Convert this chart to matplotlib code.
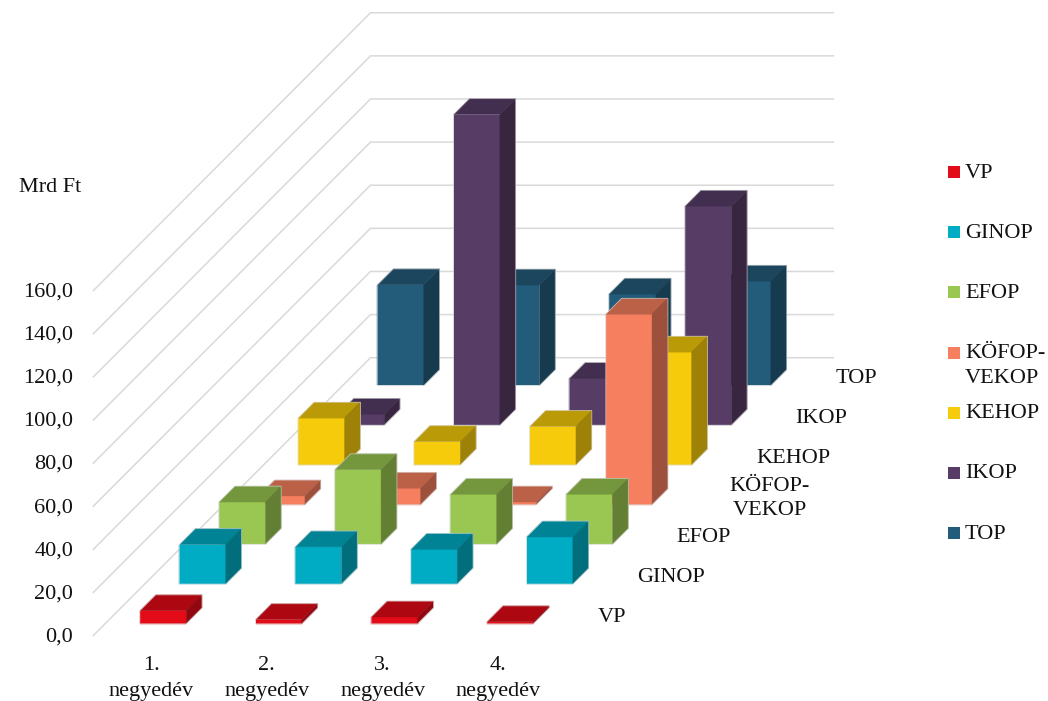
import matplotlib
matplotlib.use("Agg")
import matplotlib.pyplot as plt
from matplotlib.colors import to_rgb
from matplotlib.patches import Polygon, Rectangle

# Quarterly figures, Mrd Ft
quarters = ["1.\nnegyedév", "2.\nnegyedév", "3.\nnegyedév", "4.\nnegyedév"]
programmes = ["VP", "GINOP", "EFOP", "KÖFOP-\nVEKOP", "KEHOP", "IKOP", "TOP"]
vp = [6.0, 1.9, 3.1, 0.9]
ginop = [18.3, 17.2, 16.1, 21.8]
efop = [19.6, 34.6, 23.2, 23.2]
kofop_vekop = [4.0, 7.6, 1.2, 88.3]
kehop = [21.7, 10.8, 17.8, 52.3]
ikop = [5.1, 144.1, 21.7, 101.6]
top = [46.7, 46.6, 42.4, 48.4]
series = [vp, ginop, efop, kofop_vekop, kehop, ikop, top]
y_ticks = [0, 20, 40, 60, 80, 100, 120, 140, 160]

front_colors = ["#E30B17", "#00ACC4", "#99C752", "#F67F5F", "#F6CB0B", "#573C66", "#235C7A"]
TOP_SHADE = 0.76
SIDE_SHADE = 0.64
GRID = "#D9D9D9"
FONT = "Liberation Serif"
FS = 16

W, H = 1048, 701
fig = plt.figure(figsize=(W / 100, H / 100), dpi=100)
ax = fig.add_axes([0, 0, 1, 1])
ax.axis("off")

# Oblique projection: one category is 115.7 px wide, one value unit 2.156 px tall,
# and each step into depth moves 39.6 px right and 39.7 px up.
CAT_PX, VAL_PX, DEPTH_X, DEPTH_Y = 115.7, 2.156, 39.6, 39.7
ORIGIN_X, ORIGIN_Y = 93.3, 635.6
ax.set_xlim(-ORIGIN_X / CAT_PX, (W - ORIGIN_X) / CAT_PX)
ax.set_ylim((ORIGIN_Y - H) / VAL_PX, ORIGIN_Y / VAL_PX)


def project(cat, value, depth):
    return cat + depth * DEPTH_X / CAT_PX, value + depth * DEPTH_Y / VAL_PX


def shade(color, factor):
    return tuple(c * factor for c in to_rgb(color))


n_cat, n_depth = len(quarters), len(programmes)

# Side wall and back wall gridlines
for tick in y_ticks:
    corners = [project(0, tick, 0), project(0, tick, n_depth), project(n_cat, tick, n_depth)]
    ax.plot(*zip(*corners), color=GRID, lw=1.1, solid_joinstyle="miter", zorder=1)

# Bars, back row first so that nearer rows cover them
BAR_W = 0.40
BAR_D = 0.40
z = 2
for s in range(n_depth - 1, -1, -1):
    for c in range(n_cat):
        value = series[s][c]
        x0, x1 = c + (1 - BAR_W) / 2, c + (1 + BAR_W) / 2
        d0, d1 = s + (1 - BAR_D) / 2, s + (1 + BAR_D) / 2
        col = front_colors[s]
        faces = [
            ([project(x0, 0, d0), project(x1, 0, d0), project(x1, value, d0), project(x0, value, d0)], col),
            ([project(x0, value, d0), project(x1, value, d0), project(x1, value, d1), project(x0, value, d1)],
             shade(col, TOP_SHADE)),
            ([project(x1, 0, d0), project(x1, 0, d1), project(x1, value, d1), project(x1, value, d0)],
             shade(col, SIDE_SHADE)),
        ]
        for pts, fc in faces:
            ax.add_patch(Polygon(pts, closed=True, facecolor=fc, edgecolor=fc, lw=0.3, zorder=z))
        outline = [project(x0, 0, d0), project(x1, 0, d0), project(x1, 0, d1), project(x1, value, d1),
                   project(x0, value, d1), project(x0, value, d0)]
        ax.add_patch(Polygon(outline, closed=True, fill=False, edgecolor="#D9D9D9", lw=0.6, alpha=0.7, zorder=z))
        z += 1

# Value axis labels
for tick in y_ticks:
    ax.annotate(f"{tick:.1f}".replace(".", ","), xy=project(0, tick, 0), xytext=(-14.6, -1.0),
                textcoords="offset points", ha="right", va="center", family=FONT, fontsize=FS, color="#111111")

# Quarter labels below the floor
for c, label in enumerate(quarters):
    ax.annotate(label, xy=project(c + 0.5, 0, 0), xytext=(0, -14.4), textcoords="offset points",
                ha="center", va="top", multialignment="center", linespacing=1.55,
                family=FONT, fontsize=FS, color="#111111", annotation_clip=False)

# Programme labels along the depth axis
for s, label in enumerate(programmes):
    nudge = 9.5 if "\n" in label else 0
    ax.annotate(label, xy=project(n_cat, 0, s + 0.5), xytext=(15.6 + nudge, -1.0), textcoords="offset points",
                ha="left", va="center", multialignment="center", linespacing=1.36,
                family=FONT, fontsize=FS, color="#111111")

fig.text(50 / W, 1 - 187.5 / H, "Mrd Ft", ha="center", va="center", family=FONT, fontsize=FS, color="#111111")

# Legend column
LEG_TOP, LEG_STEP, SWATCH = 172.0, 60.2, 12.0
for i, (label, col) in enumerate(zip(programmes, front_colors)):
    yc = LEG_TOP + i * LEG_STEP
    fig.add_artist(Rectangle((948 / W, 1 - (yc + SWATCH / 2) / H), SWATCH / W, SWATCH / H,
                             transform=fig.transFigure, facecolor=col, edgecolor="none"))
    fig.text(965 / W, 1 - (yc - 8.5) / H, label, ha="left", va="top", linespacing=1.45,
             family=FONT, fontsize=FS, color="#111111")

fig.savefig("out.png", dpi=100, facecolor="white")
